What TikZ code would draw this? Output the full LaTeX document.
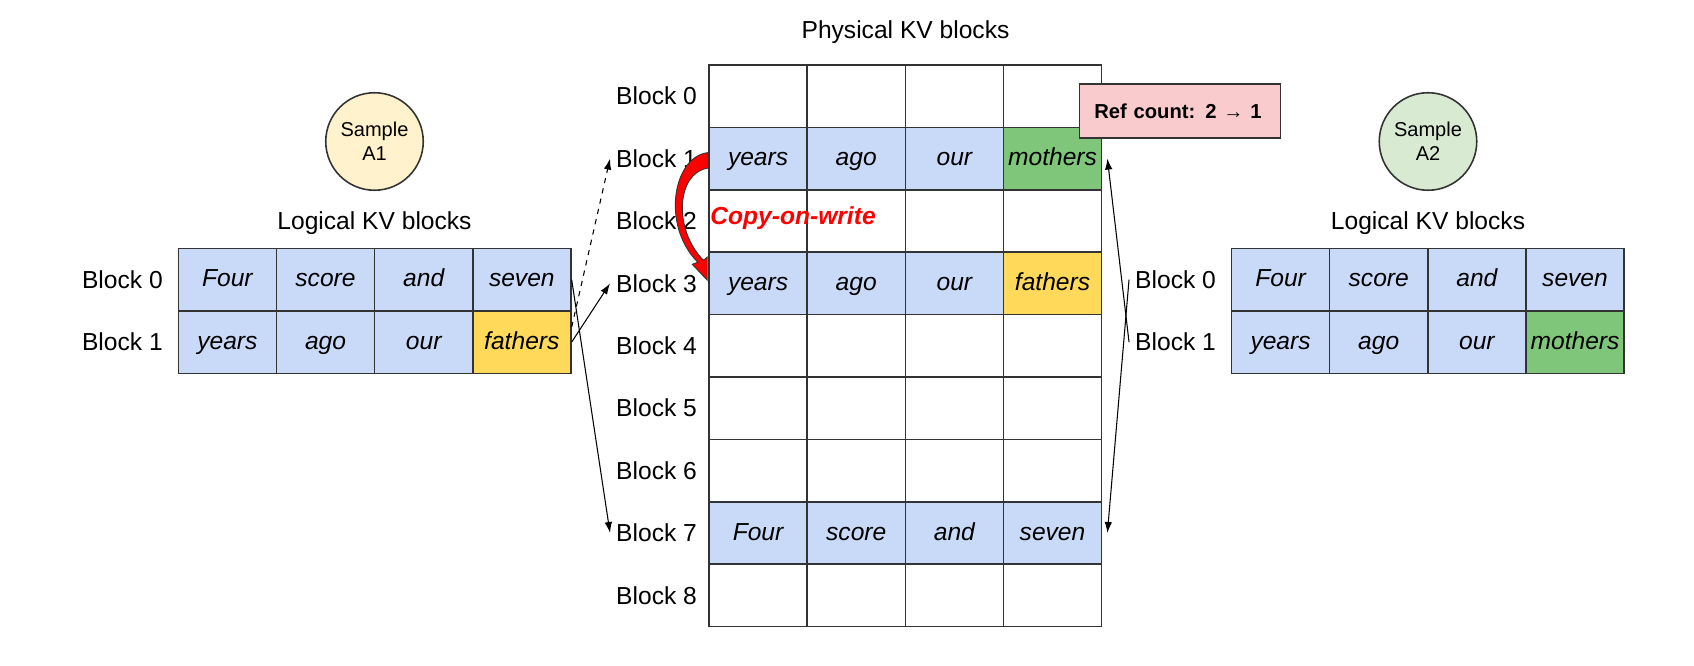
\documentclass[tikz,border=0pt]{standalone}
\usepackage{fontspec}
\setmainfont{Liberation Sans}
\usepackage{xcolor}
\usepackage{tikz}
\usetikzlibrary{shapes,arrows.meta}
\usetikzlibrary{positioning}
\definecolor{kvblue}{HTML}{C9DAF8}
\definecolor{kvyellow}{HTML}{FFD95A}
\definecolor{kvgreen}{HTML}{7FC67A}
\definecolor{refpink}{HTML}{F9CBCC}
\definecolor{sampleyellow}{HTML}{FFF2CC}
\definecolor{samplegreen}{HTML}{D9EAD3}
\definecolor{edge}{HTML}{333333}
\tikzstyle{slot}=[rectangle, draw=edge, line width=0.9pt, fill=white,
        minimum width=1.963cm, minimum height=1.248cm, inner sep=0pt,
        text height=0.88em, text depth=0.05em,
        font=\fontsize{14}{17}\selectfont\itshape]
\tikzstyle{token}=[slot, fill=kvblue]
\tikzstyle{tokenold}=[slot, fill=kvyellow]
\tikzstyle{tokennew}=[slot, fill=kvgreen]
\tikzstyle{blocklabel}=[font=\fontsize{14}{17}\selectfont]
\tikzstyle{heading}=[font=\fontsize{14}{17}\selectfont]
\tikzstyle{sample}=[circle, draw=edge, line width=0.9pt, minimum size=1.95cm,
        inner sep=0pt, align=center, font=\fontsize{11.4}{13.6}\selectfont]
\tikzstyle{refbox}=[rectangle, draw=edge, line width=0.9pt, fill=refpink,
        minimum height=1.08cm, text width=3.42cm, inner xsep=0.3cm, align=left,
        font=\fontsize{11.5}{14}\selectfont\bfseries]
\tikzstyle{cow}=[text=red, inner xsep=1pt, font=\fontsize{14}{17}\selectfont\bfseries\itshape]
\tikzstyle{link}=[->, line width=0.6pt]

\begin{document}
\begin{tikzpicture}
      [>={Latex[length=2.2mm,width=1.5mm]}]
      \useasboundingbox (0,0) rectangle (33.88,-13.32);
      % Physical KV blocks
      \node [heading] (phys) at (18.11,-0.65) {Physical KV blocks};
      \foreach \r/\row in {
          0/{slot/{},slot/{},slot/{},slot/{}},
          1/{token/years,token/ago,token/our,tokennew/mothers},
          2/{slot/{},slot/{},slot/{},slot/{}},
          3/{token/years,token/ago,token/our,tokenold/fathers},
          4/{slot/{},slot/{},slot/{},slot/{}},
          5/{slot/{},slot/{},slot/{},slot/{}},
          6/{slot/{},slot/{},slot/{},slot/{}},
          7/{token/Four,token/score,token/and,token/seven},
          8/{slot/{},slot/{},slot/{},slot/{}}}
        \foreach \s/\w [count=\c from 0] in \row
          \node [\s] (p\r\c) at ({14.18+1.963*(\c+0.5)},{-1.30-1.248*(\r+0.5)}) {\w};
      \foreach \r in {0,...,8}
        \node [blocklabel, left of=p\r0, node distance=2.03cm] (pl\r) {Block \r};
      % Sample A1
      \node [sample, fill=sampleyellow] (sa1) at (7.49,-2.83) {Sample\\A1};
      \node [heading] (atitle) at (7.49,-4.47) {Logical KV blocks};
      \foreach \r/\row in {
          0/{token/Four,token/score,token/and,token/seven},
          1/{token/years,token/ago,token/our,tokenold/fathers}}
        \foreach \s/\w [count=\c from 0] in \row
          \node [\s] (a\r\c) at ({3.566+1.963*(\c+0.5)},{-4.97-1.248*(\r+0.5)}) {\w};
      \foreach \r in {0,1}
        \node [blocklabel, left of=a\r0, node distance=2.10cm] (al\r) {Block \r};
      % Sample A2
      \node [sample, fill=samplegreen] (sa2) at (28.56,-2.83) {Sample\\A2};
      \node [heading] (btitle) at (28.56,-4.47) {Logical KV blocks};
      \foreach \r/\row in {
          0/{token/Four,token/score,token/and,token/seven},
          1/{token/years,token/ago,token/our,tokennew/mothers}}
        \foreach \s/\w [count=\c from 0] in \row
          \node [\s] (b\r\c) at ({24.63+1.963*(\c+0.5)},{-4.97-1.248*(\r+0.5)}) {\w};
      \foreach \r in {0,1}
        \node [blocklabel, left of=b\r0, node distance=2.10cm] (bl\r) {Block \r};
      % Ref count and copy-on-write
      \node [refbox, anchor=north west] (ref) at (21.57,-1.67) {Ref count: 2 → 1};
      \node [cow, anchor=west] (cow) at ([yshift=0.06cm]p20.west) {Copy-on-write};
      \begin{scope}[shift={(p10.west)}]
        \filldraw [fill=red, draw=edge, line width=0.5pt]
          (0,0.12) .. controls (-0.70,0.05) and (-0.95,-1.33) .. (-0.208,-2.074)
          -- (-0.32,-2.114) -- (-0.02,-2.43) -- (-0.02,-1.97) -- (-0.096,-2.034)
          .. controls (-0.72,-1.39) and (-0.62,-0.27) .. (0,-0.19) -- cycle;
      \end{scope}
      % Draw edges
      \draw [link, dashed] ([yshift=3mm]a13.east) -- (pl1.west);
      \draw [link] (a13.east) -- (pl3.west);
      \draw [link] (a03.east) -- (pl7.west);
      \draw [link] (bl0.west) -- ([xshift=1mm]p73.east);
      \draw [link] (bl1.west) -- ([xshift=1mm]p13.east);
\end{tikzpicture}
\end{document}
